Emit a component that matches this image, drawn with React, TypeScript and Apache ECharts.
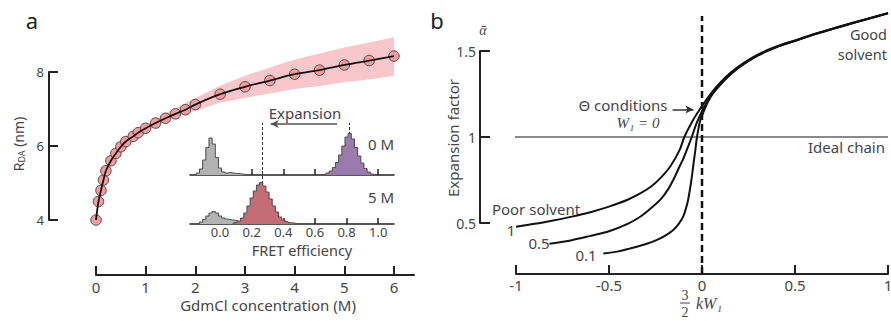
import React, { useEffect, useRef } from "react";
import * as echarts from "echarts";

// ---------------- Panel a: R_DA vs GdmCl concentration ----------------
const gdmclConc = [0, 0.05, 0.1, 0.15, 0.2, 0.3, 0.4, 0.5, 0.6, 0.75, 0.85, 1.0, 1.2, 1.4, 1.6, 1.8, 2.0, 2.5, 3.0, 3.5, 4.0, 4.5, 5.0, 5.5, 6.0];
const rdaValues = [4.0, 4.5, 4.8, 5.08, 5.33, 5.6, 5.8, 5.98, 6.12, 6.26, 6.36, 6.48, 6.62, 6.75, 6.87, 6.98, 7.12, 7.4, 7.6, 7.77, 7.94, 8.05, 8.19, 8.31, 8.43];
const bandConc = [0, 0.05, 0.1, 0.2, 0.3, 0.4, 0.5, 0.75, 1, 1.25, 1.5, 1.75, 2, 2.5, 3, 3.5, 4, 4.5, 5, 5.5, 6];
const bandUpper = [4.0, 4.52, 4.82, 5.35, 5.63, 5.83, 6.02, 6.31, 6.55, 6.76, 6.95, 7.13, 7.3, 7.63, 7.9, 8.12, 8.34, 8.5, 8.66, 8.8, 8.94];
const bandLower = [4.0, 4.48, 4.78, 5.31, 5.57, 5.77, 5.94, 6.21, 6.41, 6.58, 6.73, 6.85, 6.95, 7.17, 7.3, 7.42, 7.54, 7.62, 7.72, 7.8, 7.9];
const gdmclTicks = [0, 1, 2, 3, 4, 5, 6];
const rdaTicks = [4, 6, 8];

// ---------------- Inset: FRET efficiency histograms ----------------
const fretTicks = [0, 0.2, 0.4, 0.6, 0.8, 1.0];
const donor0E = [-0.16, -0.14, -0.12, -0.1, -0.08, -0.06, -0.04, -0.02, 0, 0.02, 0.04, 0.06, 0.08, 0.1, 0.12, 0.14, 0.16, 0.18];
const donor0H = [0.01, 0.04, 0.12, 0.3, 0.55, 0.74, 0.62, 0.35, 0.14, 0.06, 0.04, 0.05, 0.04, 0.03, 0.03, 0.02, 0.01, 0];
const fret0E = [0.64, 0.66, 0.68, 0.7, 0.72, 0.74, 0.76, 0.78, 0.8, 0.82, 0.84, 0.86, 0.88, 0.9, 0.92, 0.94, 0.96, 0.98];
const fret0H = [0, 0.01, 0.04, 0.08, 0.15, 0.25, 0.4, 0.58, 0.76, 0.83, 0.72, 0.55, 0.38, 0.24, 0.13, 0.06, 0.02, 0];
const donor5E = [-0.14, -0.12, -0.1, -0.08, -0.06, -0.04, -0.02, 0, 0.02, 0.04, 0.06, 0.08, 0.1, 0.12, 0.14, 0.16, 0.18];
const donor5H = [0.01, 0.04, 0.09, 0.16, 0.22, 0.25, 0.22, 0.16, 0.12, 0.1, 0.09, 0.08, 0.07, 0.05, 0.03, 0.01, 0];
const fret5E = [0.08, 0.1, 0.12, 0.14, 0.16, 0.18, 0.2, 0.22, 0.24, 0.26, 0.28, 0.3, 0.32, 0.34, 0.36, 0.38, 0.4, 0.42, 0.44, 0.46, 0.48, 0.5];
const fret5H = [0.01, 0.03, 0.06, 0.12, 0.22, 0.36, 0.52, 0.66, 0.78, 0.83, 0.76, 0.64, 0.5, 0.36, 0.24, 0.14, 0.08, 0.05, 0.03, 0.02, 0.01, 0];
const peakE0M = 0.82;
const peakE5M = 0.27;

// ---------------- Panel b: expansion factor ----------------
const curve1X = [-1, -0.9, -0.8, -0.7, -0.6, -0.5, -0.4, -0.33, -0.27, -0.22, -0.17, -0.12, -0.095, -0.05, 0, 0.05, 0.1, 0.15, 0.2, 0.3, 0.4, 0.5, 0.6, 0.7, 0.8, 0.9, 1];
const curve1Y = [0.478, 0.495, 0.515, 0.537, 0.563, 0.595, 0.635, 0.673, 0.715, 0.765, 0.83, 0.925, 1.0, 1.095, 1.18, 1.255, 1.318, 1.37, 1.413, 1.479, 1.526, 1.562, 1.598, 1.63, 1.661, 1.691, 1.72];
const curve05X = [-0.82, -0.7, -0.6, -0.5, -0.4, -0.33, -0.27, -0.22, -0.18, -0.15, -0.12, -0.1, -0.08, -0.055, -0.03, 0, 0.025, 0.05, 0.1, 0.15, 0.2, 0.3, 0.4, 0.5, 0.6, 0.7, 0.8, 0.9, 1];
const curve05Y = [0.38, 0.4, 0.425, 0.452, 0.495, 0.538, 0.59, 0.64, 0.7, 0.76, 0.83, 0.875, 0.93, 1.0, 1.078, 1.15, 1.2, 1.245, 1.31, 1.365, 1.409, 1.476, 1.524, 1.56, 1.596, 1.628, 1.659, 1.689, 1.72];
const curve01X = [-0.53, -0.45, -0.39, -0.3, -0.245, -0.2, -0.156, -0.125, -0.1, -0.085, -0.075, -0.057, -0.045, -0.035, -0.027, -0.01, 0.01, 0.03, 0.06, 0.1, 0.15, 0.2, 0.3, 0.4, 0.5, 0.6, 0.7, 0.8, 0.9, 1];
const curve01Y = [0.322, 0.335, 0.351, 0.378, 0.4, 0.425, 0.458, 0.495, 0.54, 0.59, 0.632, 0.75, 0.85, 0.93, 1.0, 1.095, 1.15, 1.2, 1.255, 1.305, 1.36, 1.405, 1.473, 1.522, 1.558, 1.595, 1.627, 1.658, 1.689, 1.72];
const alphaTicks = [0.5, 1, 1.5];
const kwTicks = [-1, -0.5, 0, 0.5, 1];
const idealAlpha = 1;
const thetaKW = 0;

// ---------------- layout ----------------
const A_LEFT = 96, A_TOP = 72, A_W = 318, A_H = 148, A_XOFF = 55, A_YOFF = 47;
const IN_LEFT = 190, IN_W = 204, IN1_TOP = 120, IN2_TOP = 169, IN_H = 55, IN_YMAX = 1.1;
const B_LEFT = 516, B_TOP = 51, B_W = 372, B_H = 172, B_XOFF = 51, B_YOFF = 36;
const A_XMAX = A_W / ((394 - 96) / 6);
const B_XLEFT_EXT = -1 - (B_YOFF * 2) / B_W;
const B_DASH_TOP = 1.5 + (B_TOP - 16) / B_H;
const B_DASH_BOTTOM = 0.5 - B_XOFF / B_H;

const FONT = "'Noto Sans', 'DejaVu Sans', sans-serif";
const SERIF = "'Liberation Serif', 'DejaVu Serif', serif";
const TXT = "#454545";
const AX = "#222";

const zip = (xs: number[], ys: number[]) => xs.map((x, i) => [x, ys[i]]);

function txt(x: number, y: number, text: string, extra: any = {}) {
  return {
    type: "text",
    x,
    y,
    silent: true,
    style: {
      text,
      fill: TXT,
      fontSize: 15,
      fontFamily: FONT,
      align: "center",
      verticalAlign: "middle",
      ...extra,
    },
  };
}

function histSeries(name: string, xi: number, es: number[], hs: number[], fill: string, z: number, extra: any = {}) {
  return {
    name,
    type: "line",
    xAxisIndex: xi,
    yAxisIndex: xi,
    data: zip(es, hs),
    step: "middle",
    symbol: "none",
    z,
    lineStyle: { color: "#4a4a4a", width: 1 },
    areaStyle: { color: fill, opacity: 1 },
    ...extra,
  };
}

function curveSeries(xs: number[], ys: number[], extra: any = {}) {
  return {
    type: "line",
    xAxisIndex: 3,
    yAxisIndex: 3,
    data: zip(xs, ys),
    smooth: 0.3,
    symbol: "none",
    clip: false,
    lineStyle: { color: "#111", width: 2 },
    z: 3,
    ...extra,
  };
}

function buildOption() {
  const valueAxisBase = {
    type: "value",
    splitLine: { show: false },
    axisLine: { show: true, onZero: false, lineStyle: { color: AX, width: 2 } },
    axisTick: { show: true, inside: true, lineStyle: { color: AX, width: 2 } },
    axisLabel: { color: TXT, fontFamily: FONT, fontSize: 15 },
  };
  const thinLine = { show: true, onZero: false, lineStyle: { color: AX, width: 1.5 } };
  return {
    animation: false,
    backgroundColor: "#ffffff",
    grid: [
      { left: A_LEFT, top: A_TOP, width: A_W, height: A_H, outerBoundsMode: "none" },
      { left: IN_LEFT, top: IN1_TOP, width: IN_W, height: IN_H, outerBoundsMode: "none" },
      { left: IN_LEFT, top: IN2_TOP, width: IN_W, height: IN_H, outerBoundsMode: "none" },
      { left: B_LEFT, top: B_TOP, width: B_W, height: B_H, outerBoundsMode: "none" },
    ],
    xAxis: [
      {
        ...valueAxisBase,
        gridIndex: 0,
        min: 0,
        max: A_XMAX,
        offset: A_XOFF,
        axisTick: { ...valueAxisBase.axisTick, length: 9, customValues: gdmclTicks },
        axisLabel: { ...valueAxisBase.axisLabel, margin: 4, customValues: gdmclTicks },
      },
      {
        ...valueAxisBase,
        gridIndex: 1,
        min: -0.19,
        max: 1.1,
        axisLine: thinLine,
        axisTick: { show: true, inside: true, length: 6, lineStyle: { color: AX, width: 1.5 }, customValues: fretTicks },
        axisLabel: { show: false },
      },
      {
        ...valueAxisBase,
        gridIndex: 2,
        min: -0.19,
        max: 1.1,
        axisLine: thinLine,
        axisTick: { show: true, inside: true, length: 6, lineStyle: { color: AX, width: 1.5 }, customValues: fretTicks },
        axisLabel: {
          ...valueAxisBase.axisLabel,
          fontSize: 13,
          margin: 1,
          customValues: fretTicks,
          formatter: (v: number) => v.toFixed(1),
        },
      },
      {
        ...valueAxisBase,
        gridIndex: 3,
        min: -1,
        max: 1,
        interval: 0.5,
        offset: B_XOFF,
        axisTick: { ...valueAxisBase.axisTick, length: 9, customValues: kwTicks },
        axisLabel: { ...valueAxisBase.axisLabel, margin: 3, customValues: kwTicks },
      },
    ],
    yAxis: [
      {
        ...valueAxisBase,
        gridIndex: 0,
        min: 4,
        max: 8,
        interval: 2,
        offset: A_YOFF,
        axisTick: { ...valueAxisBase.axisTick, length: 9, customValues: rdaTicks },
        axisLabel: { ...valueAxisBase.axisLabel, fontSize: 13, margin: 5, customValues: rdaTicks },
      },
      { type: "value", gridIndex: 1, min: 0, max: IN_YMAX, show: false },
      { type: "value", gridIndex: 2, min: 0, max: IN_YMAX, show: false },
      {
        ...valueAxisBase,
        gridIndex: 3,
        min: 0.5,
        max: 1.5,
        interval: 0.5,
        offset: B_YOFF,
        axisTick: { ...valueAxisBase.axisTick, length: 10, customValues: alphaTicks },
        axisLabel: { ...valueAxisBase.axisLabel, fontSize: 14, margin: 4, customValues: alphaTicks },
      },
    ],
    series: [
      // ---- panel a band ----
      {
        type: "custom",
        xAxisIndex: 0,
        yAxisIndex: 0,
        clip: false,
        silent: true,
        z: 1,
        data: [[0, 4]],
        renderItem: (_params: any, api: any) => {
          const pts: number[][] = [];
          bandConc.forEach((c, i) => pts.push(api.coord([c, bandUpper[i]])));
          for (let i = bandConc.length - 1; i >= 0; i--) pts.push(api.coord([bandConc[i], bandLower[i]]));
          return { type: "polygon", shape: { points: pts }, style: { fill: "#f7c7cb", stroke: "none" } };
        },
      },
      {
        type: "scatter",
        xAxisIndex: 0,
        yAxisIndex: 0,
        data: zip(gdmclConc, rdaValues),
        symbolSize: 10.5,
        clip: false,
        itemStyle: { color: "#f29ca1", borderColor: "#5e4444", borderWidth: 1, opacity: 1 },
        z: 3,
      },
      {
        type: "line",
        xAxisIndex: 0,
        yAxisIndex: 0,
        data: zip(gdmclConc, rdaValues),
        smooth: 0.35,
        symbol: "none",
        clip: false,
        lineStyle: { color: "#111", width: 1.8 },
        z: 4,
      },
      // ---- inset 0 M ----
      histSeries("donor0", 1, donor0E, donor0H, "#b3b3b3", 5),
      histSeries("fret0", 1, fret0E, fret0H, "#9b7aad", 5, {
        markLine: {
          silent: true,
          symbol: ["none", "none"],
          label: { show: false },
          lineStyle: { color: "#333", width: 1, type: [3, 2] },
          data: [
            [{ coord: [peakE5M, 0] }, { coord: [peakE5M, 1.04] }],
            [{ coord: [peakE0M, 0] }, { coord: [peakE0M, 1.04] }],
            [
              { coord: [0.74, 1.02], lineStyle: { type: "solid", color: "#555", width: 1.5 }, symbol: "none" },
              { coord: [0.32, 1.02], symbol: "arrow", symbolSize: [6, 8] },
            ],
          ],
        },
      }),
      // ---- inset 5 M ----
      histSeries("donor5", 2, donor5E, donor5H, "#b3b3b3", 5),
      histSeries("fret5", 2, fret5E, fret5H, "#c46c76", 6, {
        markLine: {
          silent: true,
          symbol: ["none", "none"],
          label: { show: false },
          lineStyle: { color: "#333", width: 1, type: [3, 2] },
          data: [[{ coord: [peakE5M, 0] }, { coord: [peakE5M, IN_YMAX] }]],
        },
      }),
      // ---- panel b reference lines ----
      {
        type: "line",
        xAxisIndex: 3,
        yAxisIndex: 3,
        data: [[B_XLEFT_EXT, idealAlpha], [1, idealAlpha]],
        symbol: "none",
        clip: false,
        silent: true,
        lineStyle: { color: "#8a8a8a", width: 1.8 },
        z: 2,
      },
      {
        type: "line",
        xAxisIndex: 3,
        yAxisIndex: 3,
        data: [[thetaKW, B_DASH_BOTTOM], [thetaKW, B_DASH_TOP]],
        symbol: "none",
        clip: false,
        silent: true,
        lineStyle: { color: "#111", width: 2.5, type: [7, 4] },
        z: 4,
      },
      // ---- panel b curves ----
      curveSeries(curve1X, curve1Y, {
        markLine: {
          silent: true,
          symbol: ["none", "none"],
          label: { show: false },
          data: [
            [
              { coord: [-0.158, 1.16], lineStyle: { color: "#333", width: 1.5, type: "solid" }, symbol: "none" },
              { coord: [-0.046, 1.16], symbol: "arrow", symbolSize: [6, 8] },
            ],
          ],
        },
      }),
      curveSeries(curve05X, curve05Y),
      curveSeries(curve01X, curve01Y),
    ],
    graphic: [
      txt(32, 20, "a", { fontSize: 22, fill: "#222" }),
      txt(437, 20, "b", { fontSize: 22, fill: "#222" }),
      {
        type: "text",
        x: 18,
        y: 144,
        rotation: Math.PI / 2,
        silent: true,
        style: {
          text: "{r|R}{s|DA}{r| (nm)}",
          align: "center",
          verticalAlign: "middle",
          fill: TXT,
          fontFamily: FONT,
          fontSize: 14,
          rich: {
            r: { fontSize: 14, fontFamily: FONT, fill: TXT },
            s: { fontSize: 9, fontFamily: FONT, fill: TXT, padding: [7, 0, 0, 0] },
          },
        },
      },
      txt(268, 305, "GdmCl concentration (M)"),
      txt(302, 250, "FRET efficiency", { fontSize: 14.5 }),
      txt(305, 113, "Expansion"),
      txt(394, 144, "0 M", { align: "right" }),
      txt(394, 197, "5 M", { align: "right" }),
      // panel b texts
      txt(483, 30, "ᾱ", { fontFamily: SERIF, fontStyle: "italic", fontSize: 14 }),
      {
        type: "text",
        x: 453,
        y: 138,
        rotation: Math.PI / 2,
        silent: true,
        style: { text: "Expansion factor", fill: TXT, fontSize: 15, fontFamily: FONT, align: "center", verticalAlign: "middle" },
      },
      txt(887, 34, "Good", { align: "right", fontSize: 14.5 }),
      txt(887, 54, "solvent", { align: "right", fontSize: 14.5 }),
      txt(885, 147, "Ideal chain", { align: "right" }),
      txt(623, 105, "Θ conditions"),
      txt(638, 123, "W\u2081 = 0", { fontFamily: SERIF, fontStyle: "italic", fontSize: 15 }),
      txt(536, 209, "Poor solvent"),
      txt(511, 230, "1"),
      txt(539, 243, "0.5"),
      txt(586, 255, "0.1"),
      txt(685, 295, "3", { fontFamily: SERIF, fontSize: 14 }),
      { type: "line", silent: true, shape: { x1: 680, y1: 303, x2: 690, y2: 303 }, style: { stroke: TXT, lineWidth: 1 } },
      txt(685, 312, "2", { fontFamily: SERIF, fontSize: 14 }),
      txt(709, 303, "kW\u2081", { fontFamily: SERIF, fontStyle: "italic", fontSize: 16 }),
    ],
  };
}

export default function App() {
  const ref = useRef<HTMLDivElement | null>(null);
  useEffect(() => {
    document.body.style.margin = "0";
    if (!ref.current) return;
    const chart = echarts.init(ref.current, undefined, { renderer: "svg" });
    chart.setOption(buildOption() as any);
    return () => chart.dispose();
  }, []);
  return <div ref={ref} style={{ width: 891, height: 321, background: "#fff" }} />;
}
